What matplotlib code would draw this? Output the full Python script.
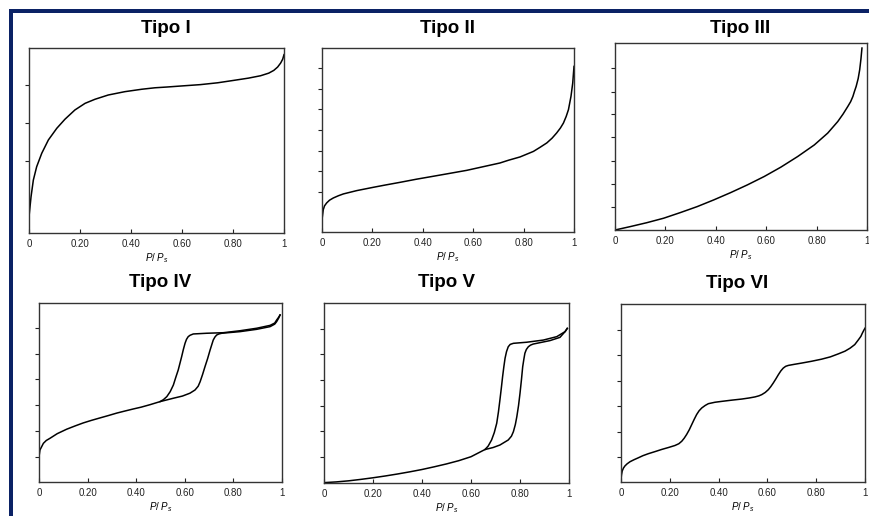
import matplotlib
matplotlib.use('Agg')
import matplotlib.pyplot as plt
from matplotlib.patches import Rectangle

plt.rcParams['font.family'] = ['Liberation Sans', 'DejaVu Sans']
plt.rcParams['mathtext.fontset'] = 'custom'
plt.rcParams['mathtext.it'] = 'Liberation Sans:italic'
plt.rcParams['mathtext.rm'] = 'Liberation Sans'

# curves, P/Ps on x and fraction of the axis height on y
tipo1_x = [0, 0.008, 0.017, 0.030, 0.050, 0.076, 0.109, 0.141, 0.180, 0.220, 0.259, 0.311, 0.376, 0.442, 0.494,
           0.54, 0.60, 0.672, 0.74, 0.803, 0.86, 0.908, 0.94, 0.96, 0.975, 0.987, 0.995, 1.0]
tipo1_y = [0.088, 0.196, 0.286, 0.358, 0.431, 0.503, 0.566, 0.615, 0.665, 0.701, 0.723, 0.746, 0.764, 0.777, 0.785,
           0.789, 0.795, 0.802, 0.812, 0.825, 0.837, 0.85, 0.864, 0.879, 0.897, 0.919, 0.94, 0.964]

tipo2_x = [0, 0.005, 0.01, 0.0185, 0.03, 0.045, 0.065, 0.085, 0.138, 0.204, 0.25, 0.31, 0.375, 0.442, 0.5, 0.574,
           0.64, 0.706, 0.74, 0.786, 0.839, 0.865, 0.892, 0.913, 0.931, 0.946, 0.958, 0.969, 0.978, 0.988, 0.995, 1.0]
tipo2_y = [0.067, 0.121, 0.142, 0.158, 0.173, 0.185, 0.197, 0.207, 0.225, 0.243, 0.255, 0.27, 0.287, 0.303, 0.317, 0.335,
           0.355, 0.375, 0.39, 0.408, 0.438, 0.46, 0.484, 0.51, 0.538, 0.565, 0.592, 0.628, 0.665, 0.737, 0.81, 0.9]

tipo3_x = [0, 0.06, 0.126, 0.193, 0.259, 0.326, 0.392, 0.459, 0.525, 0.592, 0.658, 0.725, 0.791, 0.844, 0.884,
           0.905, 0.924, 0.935, 0.944, 0.95, 0.957, 0.965, 0.971, 0.976, 0.98]
tipo3_y = [0, 0.018, 0.039, 0.063, 0.093, 0.125, 0.161, 0.2, 0.241, 0.286, 0.336, 0.393, 0.455, 0.518, 0.58,
           0.62, 0.661, 0.686, 0.714, 0.74, 0.768, 0.81, 0.857, 0.915, 0.973]

tipo4_ads_x = [0, 0.004, 0.018, 0.03, 0.045, 0.075, 0.114, 0.15, 0.182, 0.215, 0.251, 0.285, 0.32, 0.355, 0.388,
               0.42, 0.457, 0.498, 0.553, 0.59, 0.621, 0.642, 0.655, 0.663, 0.673, 0.683, 0.694, 0.704, 0.717,
               0.724, 0.731, 0.74, 0.752, 0.827, 0.896, 0.951, 0.97, 0.978, 0.986, 0.992]
tipo4_ads_y = [0.141, 0.179, 0.216, 0.232, 0.244, 0.27, 0.295, 0.314, 0.33, 0.344, 0.358, 0.371, 0.385, 0.397, 0.408,
               0.418, 0.432, 0.449, 0.468, 0.48, 0.496, 0.514, 0.535, 0.56, 0.6, 0.644, 0.69, 0.737, 0.793,
               0.81, 0.821, 0.827, 0.831, 0.84, 0.853, 0.868, 0.882, 0.896, 0.915, 0.933]
tipo4_des_x = [0.498, 0.512, 0.526, 0.54, 0.553, 0.563, 0.573, 0.58, 0.587, 0.594, 0.601, 0.607, 0.614, 0.622,
               0.635, 0.69, 0.758, 0.827, 0.896, 0.951, 0.97, 0.978, 0.986, 0.992]
tipo4_des_y = [0.449, 0.46, 0.477, 0.505, 0.542, 0.585, 0.626, 0.663, 0.7, 0.74, 0.775, 0.797, 0.812, 0.82,
               0.827, 0.831, 0.834, 0.845, 0.859, 0.875, 0.888, 0.905, 0.92, 0.933]

tipo5_ads_x = [0, 0.05, 0.1, 0.15, 0.2, 0.25, 0.3, 0.35, 0.4, 0.45, 0.5, 0.55, 0.6, 0.657, 0.69, 0.718, 0.752,
               0.765, 0.773, 0.781, 0.787, 0.794, 0.8, 0.806, 0.811, 0.816, 0.82, 0.826, 0.834, 0.843, 0.854,
               0.922, 0.963, 0.984, 0.993]
tipo5_ads_y = [0.002, 0.006, 0.012, 0.02, 0.029, 0.039, 0.05, 0.062, 0.075, 0.09, 0.106, 0.124, 0.146, 0.186,
               0.197, 0.211, 0.239, 0.26, 0.285, 0.325, 0.368, 0.43, 0.498, 0.575, 0.646, 0.69, 0.721, 0.742,
               0.757, 0.766, 0.772, 0.791, 0.809, 0.841, 0.859]
tipo5_des_x = [0.657, 0.67, 0.684, 0.695, 0.705, 0.712, 0.718, 0.724, 0.729, 0.734, 0.739, 0.745, 0.752, 0.76,
               0.773, 0.827, 0.895, 0.95, 0.984, 0.993]
tipo5_des_y = [0.186, 0.205, 0.239, 0.28, 0.332, 0.395, 0.461, 0.53, 0.591, 0.645, 0.693, 0.73, 0.757, 0.77,
               0.776, 0.782, 0.794, 0.813, 0.841, 0.859]

tipo6_x = [0, 0.002, 0.005, 0.01, 0.016, 0.025, 0.037, 0.053, 0.071, 0.09, 0.112, 0.14, 0.167, 0.195, 0.221,
           0.237, 0.249, 0.259, 0.269, 0.28, 0.29, 0.3, 0.31, 0.32, 0.331, 0.345, 0.358, 0.385, 0.413, 0.455,
           0.495, 0.525, 0.549, 0.565, 0.577, 0.591, 0.604, 0.614, 0.624, 0.635, 0.645, 0.655, 0.665, 0.675,
           0.686, 0.71, 0.74, 0.78, 0.822, 0.858, 0.891, 0.918, 0.939, 0.958, 0.973, 0.983, 0.989, 0.995, 1.0]
tipo6_y = [0.015, 0.04, 0.062, 0.078, 0.09, 0.102, 0.114, 0.125, 0.136, 0.148, 0.159, 0.171, 0.183, 0.194, 0.205,
           0.215, 0.229, 0.246, 0.267, 0.294, 0.323, 0.352, 0.379, 0.4, 0.416, 0.43, 0.44, 0.448, 0.453, 0.46,
           0.466, 0.472, 0.478, 0.484, 0.491, 0.503, 0.519, 0.536, 0.556, 0.58, 0.603, 0.624, 0.64, 0.65,
           0.655, 0.661, 0.668, 0.678, 0.69, 0.703, 0.72, 0.735, 0.752, 0.772, 0.799, 0.818, 0.836, 0.852, 0.864]

titles = ['Tipo I', 'Tipo II', 'Tipo III', 'Tipo IV', 'Tipo V', 'Tipo VI']
xtick_vals = [0, 0.2, 0.4, 0.6, 0.8, 1.0]
xtick_labels = ['0', '0.20', '0.40', '0.60', '0.80', '1']
yticks = [
    [0.389, 0.595, 0.80],
    [0.217, 0.332, 0.44, 0.554, 0.668, 0.777, 0.891],
    [0.123, 0.246, 0.369, 0.497, 0.62, 0.738, 0.866],
    [0.14, 0.285, 0.43, 0.575, 0.715, 0.86],
    [0.144, 0.289, 0.428, 0.572, 0.717, 0.856],
    [0.138, 0.282, 0.425, 0.569, 0.715, 0.854],
]
curves = [
    [(tipo1_x, tipo1_y)],
    [(tipo2_x, tipo2_y)],
    [(tipo3_x, tipo3_y)],
    [(tipo4_ads_x, tipo4_ads_y), (tipo4_des_x, tipo4_des_y)],
    [(tipo5_ads_x, tipo5_ads_y), (tipo5_des_x, tipo5_des_y)],
    [(tipo6_x, tipo6_y)],
]

W, H = 870, 516
# axes boxes in pixels: left, right, top, bottom
boxes = [(29, 284, 48, 233), (322, 574, 48, 232), (615, 867, 43, 230),
         (39, 282, 303, 482), (324, 569, 303, 483), (621, 865, 304, 482)]
title_pos = [(166, 33), (448, 33), (740, 33), (160, 287), (447, 287), (737, 288)]

fig = plt.figure(figsize=(W / 100, H / 100), dpi=100)
fig.patch.set_facecolor('white')

navy = '#0b2265'
fig.add_artist(Rectangle((9 / W, 1 - 13 / H), 1, 4 / H, transform=fig.transFigure, color=navy, lw=0))
fig.add_artist(Rectangle((9 / W, 0), 4 / W, 1 - 9 / H, transform=fig.transFigure, color=navy, lw=0))

for i in range(6):
    l, r, t, b = boxes[i]
    ax = fig.add_axes([l / W, 1 - b / H, (r - l) / W, (b - t) / H])
    for xs, ys in curves[i]:
        ax.plot(xs, ys, color='black', lw=1.1, solid_joinstyle='round')
    ax.set_xlim(0, 1)
    ax.set_ylim(0, 1)
    ax.set_xticks(xtick_vals)
    ax.set_xticklabels(xtick_labels, fontsize=7)
    ax.set_yticks(yticks[i])
    ax.set_yticklabels([])
    ax.tick_params(axis='x', direction='in', length=3, width=0.8, pad=4, colors='#222222')
    ax.tick_params(axis='y', direction='out', length=3, width=0.8, colors='#222222')
    for s in ax.spines.values():
        s.set_color('#333333')
        s.set_linewidth(1.0)
    ax.set_xlabel(r'$P/\ P_s$', fontsize=7, labelpad=2)
    tx, ty = title_pos[i]
    fig.text(tx / W, 1 - ty / H, titles[i], fontsize=13.5, fontweight='bold', ha='center', va='baseline')

fig.savefig('out.png', dpi=100)
